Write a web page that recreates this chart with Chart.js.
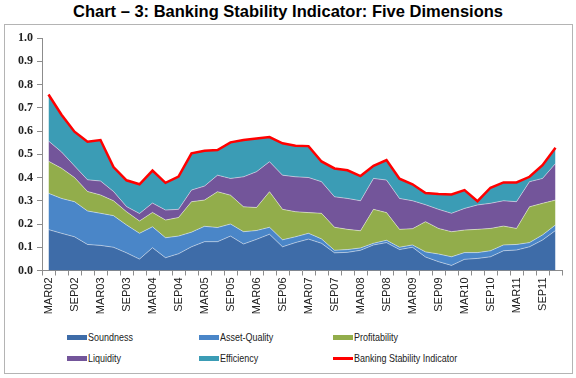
<!DOCTYPE html>
<html>
<head>
<meta charset="utf-8">
<script src="https://cdn.jsdelivr.net/npm/chart.js@4/dist/chart.umd.min.js"></script>
<style>
  body { margin: 0; width: 576px; height: 378px; background: #fff; position: relative; overflow: hidden; }
  #title { position: absolute; left: 0; top: 2px; width: 576px; text-align: center;
           font: bold 16.5px "Liberation Sans", Arial, sans-serif; color: #000; }
  #box { position: absolute; left: 4px; top: 24px; width: 567px; height: 348px; border: 1px solid #b4b4b4; }
  #chart { position: absolute; left: 0; top: 0; }
  .lg { position: absolute; font: 11.5px "Liberation Sans", Arial, sans-serif; color: #222; white-space: nowrap; }
  .lg i { position: absolute; left: 0; top: 5px; width: 20px; height: 5px; }
  .lg span { position: absolute; left: 21px; top: 0; line-height: 14px; transform: scaleX(0.78); transform-origin: left center; }
</style>
</head>
<body>
<div id="title">Chart – 3: Banking Stability Indicator: Five Dimensions</div>
<div id="box"></div>
<canvas id="chart" width="576" height="330"></canvas>
<div id="legend"></div>
<script>
// quarterly, Mar-2002 .. Dec-2011
const quarters = [
  'MAR02','JUN02','SEP02','DEC02','MAR03','JUN03','SEP03','DEC03','MAR04','JUN04',
  'SEP04','DEC04','MAR05','JUN05','SEP05','DEC05','MAR06','JUN06','SEP06','DEC06',
  'MAR07','JUN07','SEP07','DEC07','MAR08','JUN08','SEP08','DEC08','MAR09','JUN09',
  'SEP09','DEC09','MAR10','JUN10','SEP10','DEC10','MAR11','JUN11','SEP11','DEC11'
];

const soundness     = [.176,.160,.145,.112,.108,.100,.076,.049,.098,.055,.072,.102,.124,.124,.148,.114,.134,.156,.102,.120,.135,.117,.076,.078,.087,.110,.120,.090,.100,.058,.038,.022,.048,.052,.059,.085,.088,.102,.131,.172];
const assetQuality  = [.156,.150,.151,.144,.138,.136,.120,.111,.090,.086,.076,.063,.066,.061,.052,.053,.038,.030,.030,.025,.025,.019,.011,.012,.010,.007,.010,.010,.010,.022,.033,.037,.029,.025,.026,.025,.024,.018,.022,.024];
const profitability = [.138,.130,.104,.084,.079,.064,.057,.053,.062,.076,.080,.131,.113,.154,.124,.107,.099,.153,.131,.108,.089,.110,.099,.087,.074,.146,.119,.077,.070,.130,.110,.108,.097,.100,.096,.081,.069,.154,.136,.107];
const liquidity     = [.087,.070,.050,.050,.060,.040,.022,.032,.040,.043,.035,.050,.060,.071,.072,.129,.154,.129,.147,.150,.151,.136,.131,.133,.129,.133,.140,.133,.120,.073,.082,.079,.093,.105,.108,.109,.115,.108,.107,.157];
const efficiency    = [.200,.160,.147,.164,.176,.105,.113,.126,.140,.117,.141,.158,.152,.108,.155,.158,.143,.106,.137,.134,.135,.087,.122,.121,.106,.054,.086,.085,.071,.050,.066,.081,.079,.016,.067,.079,.083,.021,.057,.068];
const bsi           = [.757,.670,.597,.554,.561,.445,.388,.371,.430,.377,.404,.504,.515,.518,.551,.561,.568,.574,.547,.537,.535,.469,.439,.431,.406,.450,.475,.395,.371,.333,.329,.327,.346,.298,.356,.379,.379,.403,.453,.528];

const yTicks = [0, 0.1, 0.2, 0.3, 0.4, 0.5, 0.6, 0.7, 0.8, 0.9, 1.0];

const area = (label, data, color, fill) => ({
  label, data, fill,
  backgroundColor: color, borderColor: 'rgba(255,255,255,0.45)', borderWidth: 1,
  pointRadius: 0, tension: 0, stack: 'dims'
});

const datasets = [
  area('Soundness', soundness, '#3e6ca8', 'origin'),
  area('Asset-Quality', assetQuality, '#4a86c8', '-1'),
  area('Profitability', profitability, '#92ad4b', '-1'),
  area('Liquidity', liquidity, '#73559a', '-1'),
  area('Efficiency', efficiency, '#3b9cb5', '-1'),
  { label: 'Banking Stability Indicator', data: bsi, fill: false, stack: 'bsi', order: -1,
    borderColor: '#ff0000', borderWidth: 2.5, pointRadius: 0, tension: 0 }
];

const chart = new Chart(document.getElementById('chart'), {
  type: 'line',
  data: { labels: quarters, datasets },
  options: {
    responsive: false,
    animation: false,
    devicePixelRatio: 1,
    layout: { padding: { left: 0, right: 14, top: 38, bottom: 0 } },
    plugins: { legend: { display: false }, tooltip: { enabled: false } },
    scales: {
      x: {
        offset: true,
        grid: { offset: true, drawOnChartArea: false, drawTicks: true, tickLength: 5, color: '#8c8c8c' },
        border: { color: '#8c8c8c' },
        ticks: {
          autoSkip: false, maxRotation: 90, minRotation: 90, padding: 2,
          color: '#222', font: { family: 'Liberation Sans', size: 11 },
          callback: (v, i) => i % 2 === 0 ? quarters[i] : ''
        },
        afterFit: (s) => { s.height = 59.5; }
      },
      y: {
        stacked: true, min: 0, max: 1,
        afterBuildTicks: (s) => { s.ticks = yTicks.map(v => ({ value: v })); },
        grid: { drawOnChartArea: false, drawTicks: true, tickLength: 5, color: '#8c8c8c' },
        border: { color: '#8c8c8c' },
        ticks: {
          padding: 4, color: '#222',
          font: { family: 'Liberation Serif', size: 12, weight: 'bold' },
          callback: (v) => Number(v).toFixed(1)
        },
        afterFit: (s) => { s.width = 42; }
      }
    }
  }
});

// legend laid out as in the original: 3 columns, 2 rows
const cols = [67, 199, 333], rows = [330, 351];
const lg = document.getElementById('legend');
chart.data.datasets.forEach((d, i) => {
  const el = document.createElement('div');
  el.className = 'lg';
  el.style.left = cols[i % 3] + 'px';
  el.style.top = rows[Math.floor(i / 3)] + 'px';
  const sw = d.fill === false
    ? `<i style="background:${d.borderColor};height:3px;top:6px"></i>`
    : `<i style="background:${d.backgroundColor}"></i>`;
  el.innerHTML = sw + `<span>${d.label}</span>`;
  lg.appendChild(el);
});
</script>
</body>
</html>
